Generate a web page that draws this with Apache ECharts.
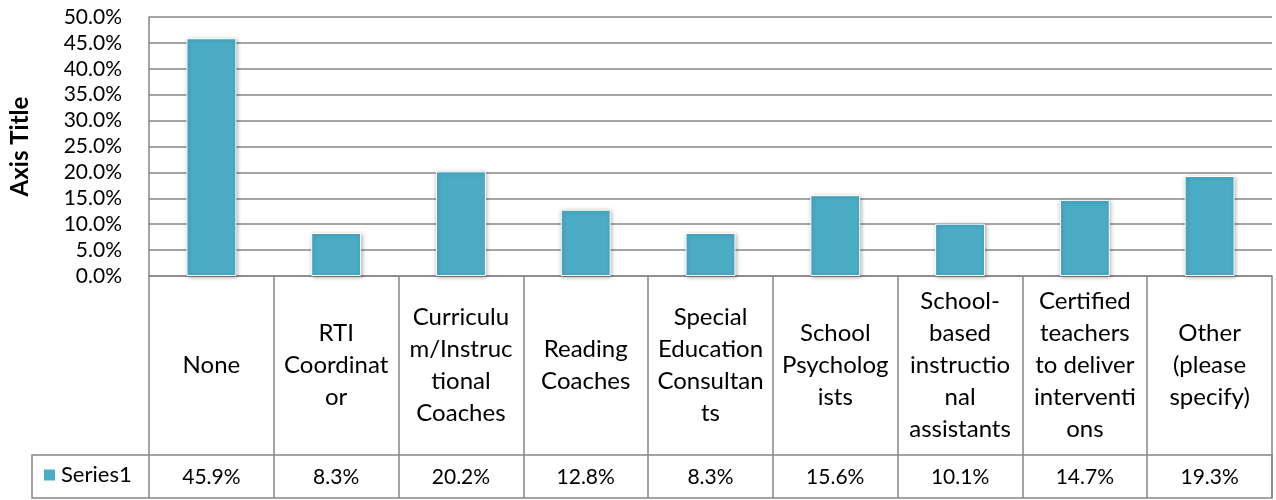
<!DOCTYPE html>
<html>
<head>
<meta charset="utf-8">
<script src="https://cdn.jsdelivr.net/npm/echarts@6/dist/echarts.min.js"></script>
<style>
    html, body {margin: 0; padding: 0; background: #fff;}
    #chart {width: 1276px; height: 500px;}
</style>
</head>
<body>
<div id="chart"></div>
<script>
// categories as they are wrapped in the data table
var categories = [
    'None',
    'RTI\nCoordinat\nor',
    'Curriculu\nm/Instruc\ntional\nCoaches',
    'Reading\nCoaches',
    'Special\nEducation\nConsultan\nts',
    'School\nPsycholog\nists',
    'School-\nbased\ninstructio\nnal\nassistants',
    'Certified\nteachers\nto deliver\ninterventi\nons',
    'Other\n(please\nspecify)'
];
var values = [0.459, 0.083, 0.202, 0.128, 0.083, 0.156, 0.101, 0.147, 0.193];
var seriesName = 'Series1';
var axisTitle = 'Axis Title';

var fuente = 'Lato, "Noto Sans", sans-serif';
var gris = '#878787';

var pct = function (v) {
    return (v * 100).toFixed(1) + '%';
};

var myChart = echarts.init(document.getElementById('chart'), null, {renderer: 'canvas'});
myChart.setOption({
    backgroundColor: '#ffffff',
    animation: false,
    textStyle: {fontFamily: fuente},
    legend: {
        data: [seriesName],
        left: 42,
        top: 464,
        padding: 0,
        itemWidth: 13,
        itemHeight: 13,
        icon: 'rect',
        textStyle: {fontSize: 22, color: '#000', fontFamily: fuente}
    },
    grid: {left: 147, right: 4, top: 17, bottom: 224, containLabel: false},
    xAxis: [{
            type: 'category',
            data: categories,
            position: 'bottom',
            axisLine: {show: true, lineStyle: {color: gris, width: 1.5}},
            axisTick: {show: true, interval: 0, alignWithLabel: false, length: 222, lineStyle: {color: gris, width: 1.5}},
            axisLabel: {
                interval: 0,
                margin: 89,
                verticalAlign: 'middle',
                align: 'center',
                fontSize: 24,
                lineHeight: 32,
                color: '#000',
                fontFamily: fuente
            },
            splitLine: {show: false}
        }, {
            type: 'category',
            data: categories,
            position: 'bottom',
            offset: 179,
            axisLine: {show: false},
            axisTick: {show: false},
            axisLabel: {
                interval: 0,
                margin: 22,
                verticalAlign: 'middle',
                fontSize: 21,
                color: '#000',
                fontFamily: fuente,
                formatter: function (v, i) {
                    return pct(values[i]);
                }
            }
        }],
    yAxis: [{
            type: 'value',
            min: 0,
            max: 0.5,
            interval: 0.05,
            name: axisTitle,
            nameLocation: 'middle',
            nameGap: 117,
            nameTextStyle: {fontSize: 24, fontWeight: 'bold', color: '#000', fontFamily: fuente},
            axisLine: {show: true, lineStyle: {color: gris, width: 1.5}},
            axisTick: {show: false},
            axisLabel: {
                margin: 27,
                fontSize: 21,
                color: '#000',
                fontFamily: fuente,
                formatter: pct
            },
            splitLine: {show: true, lineStyle: {color: gris, width: 1.5}}
        }],
    graphic: [{
            type: 'rect',
            shape: {x: 32, y: 455, width: 1240, height: 43},
            style: {fill: 'none', stroke: gris, lineWidth: 1.5},
            silent: true
        }],
    series: [{
            name: seriesName,
            type: 'bar',
            data: values,
            barWidth: '40%',
            itemStyle: {
                color: '#4bacc6',
                borderColor: '#ffffff',
                borderWidth: 1,
                shadowBlur: 4,
                shadowColor: 'rgba(0,0,0,0.3)',
                shadowOffsetX: 1,
                shadowOffsetY: 1
            }
        }]
});
</script>
</body>
</html>
